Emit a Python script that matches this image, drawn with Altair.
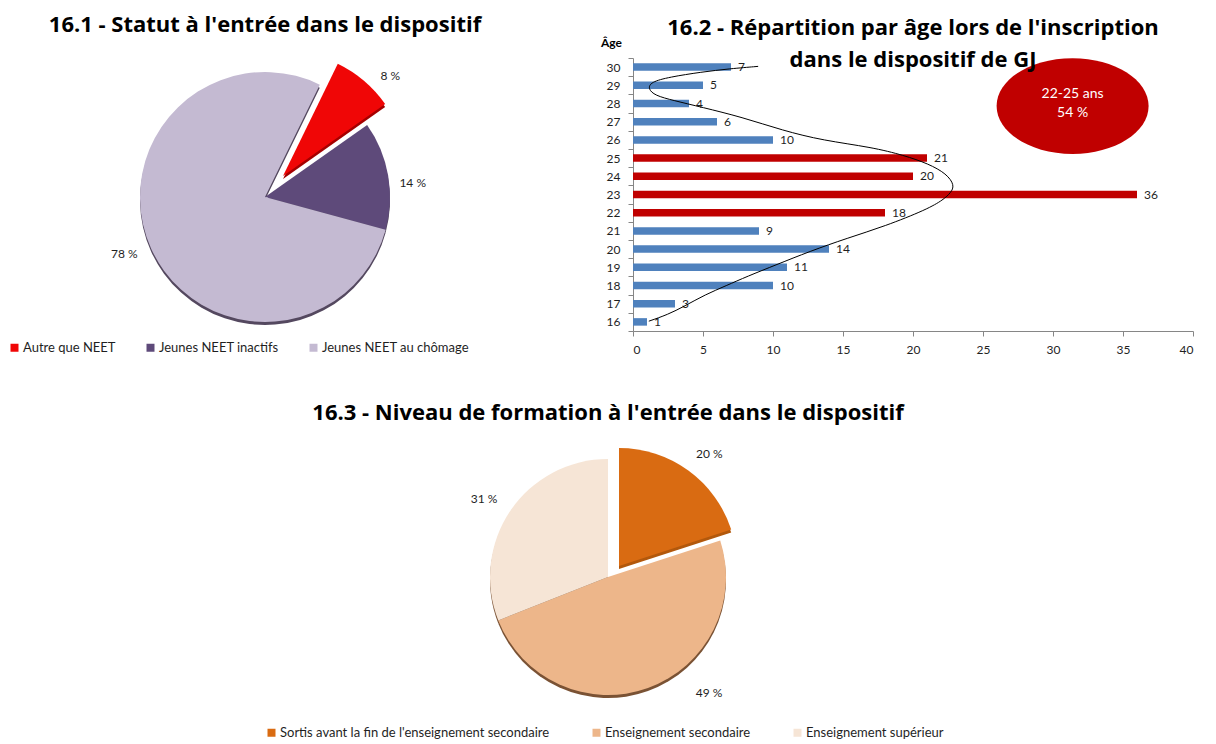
import math
import altair as alt
import pandas as pd

FONT = "Lato"
TFONT = "Open Sans"
TXT = "#1F1F1F"

# ---------------- data ----------------
statut_cats = ["Autre que NEET", "Jeunes NEET inactifs", "Jeunes NEET au chômage"]
statut_pct = [8, 14, 78]
statut_colors = ["#F00606", "#5E4A7A", "#C4BAD2"]

ages = [30, 29, 28, 27, 26, 25, 24, 23, 22, 21, 20, 19, 18, 17, 16]
counts = [7, 5, 4, 6, 10, 21, 20, 36, 18, 9, 14, 11, 10, 3, 1]
highlight_ages = [22, 23, 24, 25]

curve_x = [8.94, 6.92, 4.89, 2.58, 1.27, 1.07, 1.56, 2.87, 4.89, 7.79, 10.68, 13.57,
           17.05, 19.36, 21.1, 22.4, 22.98, 22.7, 22.18, 21.0, 18.0, 15.3, 12.6,
           10.24, 8.15, 6.66, 5.16, 3.67, 2.48, 1.13]
curve_age = [30.04, 29.91, 29.73, 29.45, 29.18, 28.81, 28.44, 28.17, 27.8, 27.25, 26.52,
             25.97, 25.6, 25.15, 24.69, 24.14, 23.5, 23.1, 22.72, 22.18, 21.26, 20.6,
             19.87, 19.14, 18.5, 17.99, 17.5, 16.86, 16.4, 16.04]

formation_cats = ["Sortis avant la fin de l'enseignement secondaire",
                  "Enseignement secondaire", "Enseignement supérieur"]
formation_pct = [20, 49, 31]
formation_colors = ["#D96B12", "#EDB68A", "#F6E5D6"]

TWO_PI = 2 * math.pi


# ---------------- pie helper ----------------
def pie_chart(cats, pcts, colors, start_deg, radius, ex_dx, ex_dy, shadow_col,
              ex_side_col, label_r, label_shift, width, height, title, title_offset,
              legend_x, legend_y, legend_pad):
    df = pd.DataFrame({
        "cat": cats,
        "pct": pcts,
        "idx": list(range(len(cats))),
        "label": [f"{p} %" for p in pcts],
    })
    a0 = math.radians(start_deg)
    tscale = alt.Scale(domain=[0, 100], range=[a0, a0 + TWO_PI])
    stacked = alt.Chart(df).transform_stack(
        stack="pct", as_=["t0", "t1"], groupby=[],
        sort=[alt.SortField("idx", order="ascending")],
    ).transform_calculate(mid="(datum.t0 + datum.t1) / 2")
    rest = stacked.transform_filter(alt.datum.idx != 0)
    exp = stacked.transform_filter(alt.datum.idx == 0)
    th = dict(theta=alt.Theta("t0:Q", scale=tscale), theta2="t1:Q")
    color = alt.Color(
        "cat:N",
        scale=alt.Scale(domain=cats, range=colors),
        legend=alt.Legend(
            orient="none", legendX=legend_x, legendY=legend_y, direction="horizontal",
            title=None, symbolType="square", symbolSize=64, symbolStrokeWidth=0,
            labelFont=FONT, labelFontSize=13, labelColor=TXT, labelOffset=2,
            columnPadding=legend_pad, labelLimit=400, padding=0,
        ),
    )
    shadow = rest.mark_arc(outerRadius=radius, yOffset=3, color=shadow_col).encode(**th)
    main = rest.mark_arc(outerRadius=radius).encode(color=color, **th)
    ex_side = exp.mark_arc(outerRadius=radius, xOffset=ex_dx, yOffset=ex_dy + 3,
                           color=ex_side_col).encode(**th)
    ex = exp.mark_arc(outerRadius=radius, xOffset=ex_dx, yOffset=ex_dy).encode(
        color=color, **th)
    layers = [shadow, main, ex_side, ex]
    for i, (ddx, ddy) in enumerate(label_shift):
        ox = ex_dx if i == 0 else 0
        oy = ex_dy if i == 0 else 0
        layers.append(
            stacked.transform_filter(alt.datum.idx == i).mark_text(
                radius=label_r, font=FONT, fontSize=12, color=TXT,
                dx=ox + ddx, dy=oy + ddy).encode(
                theta=alt.Theta("mid:Q", scale=tscale, stack=None),
                text="label:N")
        )
    return alt.layer(*layers).properties(
        width=width, height=height,
        title=alt.Title(title, font=TFONT, fontSize=22, fontWeight="bold", color="#000",
                        anchor="middle", offset=title_offset),
    )


pie1 = pie_chart(statut_cats, statut_pct, statut_colors, start_deg=26, radius=125,
                 ex_dx=18, ex_dy=-21, shadow_col="#54485F", ex_side_col="#A50000",
                 label_r=150, label_shift=[(10, 14), (0, 12), (-4, -5)],
                 width=514, height=278,
                 title="16.1 - Statut à l'entrée dans le dispositif", title_offset=21,
                 legend_x=0, legend_y=283, legend_pad=28)

pie3 = pie_chart(formation_cats, formation_pct, formation_colors, start_deg=0, radius=118,
                 ex_dx=11, ex_dy=-11, shadow_col="#7A5234", ex_side_col="#B2580C",
                 label_r=145, label_shift=[(5, 5), (52, -20), (-4, 4)],
                 width=1200, height=272,
                 title="16.3 - Niveau de formation à l'entrée dans le dispositif",
                 title_offset=16, legend_x=257, legend_y=285, legend_pad=40)

# ---------------- bar chart ----------------
bars_df = pd.DataFrame({
    "age": ages,
    "n": counts,
    "grp": ["22-25 ans" if a in highlight_ages else "autre" for a in ages],
})
curve_df = pd.DataFrame({"x": curve_x, "age": curve_age, "i": list(range(len(curve_x)))})
share = round(100 * sum(c for a, c in zip(ages, counts) if a in highlight_ages) / sum(counts))
ann_df = pd.DataFrame({"txt": [f"22-25 ans\n{share} %"]})

x_scale = alt.Scale(domain=[0, 40], nice=False, padding=0)
band_scale = alt.Scale(paddingInner=0, paddingOuter=0)
q_scale = alt.Scale(domain=[15.5, 30.5], nice=False, zero=False, padding=0)
BAR_H = 273

y_band = alt.Y(
    "age:O", sort=ages, scale=band_scale,
    axis=alt.Axis(tickBand="extent", grid=False, domainColor="#868686",
                  tickColor="#868686", tickSize=5, labelFont=FONT, labelAngle=0,
                  labelFontSize=12, labelColor=TXT, labelPadding=8,
                  title="Âge", titleAngle=0, titleFont=FONT, titleFontSize=12,
                  titleFontWeight="bold", titleColor="#000", titleX=-22,
                  titleY=-16, titleAlign="center", titleBaseline="middle"))

bars = alt.Chart(bars_df).mark_bar(size=7.5).encode(
    x=alt.X("n:Q", scale=x_scale,
            axis=alt.Axis(values=list(range(0, 41, 5)), title=None, grid=False,
                          domainColor="#868686", tickColor="#868686", tickSize=5,
                          labelFont=FONT, labelFontSize=12, labelColor=TXT,
                          labelPadding=8)),
    y=y_band,
    color=alt.Color("grp:N", scale=alt.Scale(domain=["autre", "22-25 ans"],
                                              range=["#4F81BD", "#C00000"]),
                    legend=None),
)
bar_labels = alt.Chart(bars_df).mark_text(align="left", dx=7, font=FONT, fontSize=12,
                                          color=TXT).encode(
    x=alt.X("n:Q", scale=x_scale), y=y_band, text="n:Q")
band_layer = alt.layer(bars, bar_labels)

curve = alt.Chart(curve_df).mark_line(color="#000", strokeWidth=1,
                                      interpolate="basis").encode(
    x=alt.X("x:Q", scale=x_scale),
    y=alt.Y("age:Q", scale=q_scale, axis=None), order="i:Q")
ellipse = alt.Chart(ann_df).mark_point(
    shape="M-1,0A1,0.63,0,1,1,1,0A1,0.63,0,1,1,-1,0Z", size=152 * 152,
    filled=True, color="#C00000", opacity=1).encode(
    x=alt.XDatum(31.4, scale=x_scale),
    y=alt.YDatum(27.86, scale=q_scale, axis=None))
ell_text = alt.Chart(ann_df).mark_text(lineBreak="\n", lineHeight=19, font=FONT,
                                       fontSize=14, color="#FFFFFF", dy=-12).encode(
    x=alt.XDatum(31.4, scale=x_scale),
    y=alt.YDatum(27.86, scale=q_scale, axis=None), text="txt:N")
q_layer = alt.layer(curve, ellipse, ell_text)

bar_chart = alt.layer(band_layer, q_layer).resolve_scale(y="independent").properties(
    width=560, height=BAR_H,
    title=alt.Title(["16.2 - Répartition par âge lors de l'inscription",
                     "dans le dispositif de GJ"], font=TFONT, fontSize=22,
                    fontWeight="bold", color="#000", anchor="middle", frame="group",
                    lineHeight=32, offset=-36),
)

top = alt.hconcat(pie1, bar_chart, spacing=78).resolve_scale(
    color="independent", theta="independent")
chart = alt.vconcat(top, pie3, spacing=47).resolve_scale(
    color="independent", theta="independent").properties(
    padding={"left": 0, "top": 6, "right": 0, "bottom": 0}).configure_view(stroke=None)

chart.save("out.html", embed_options={"renderer": "svg", "actions": False})
